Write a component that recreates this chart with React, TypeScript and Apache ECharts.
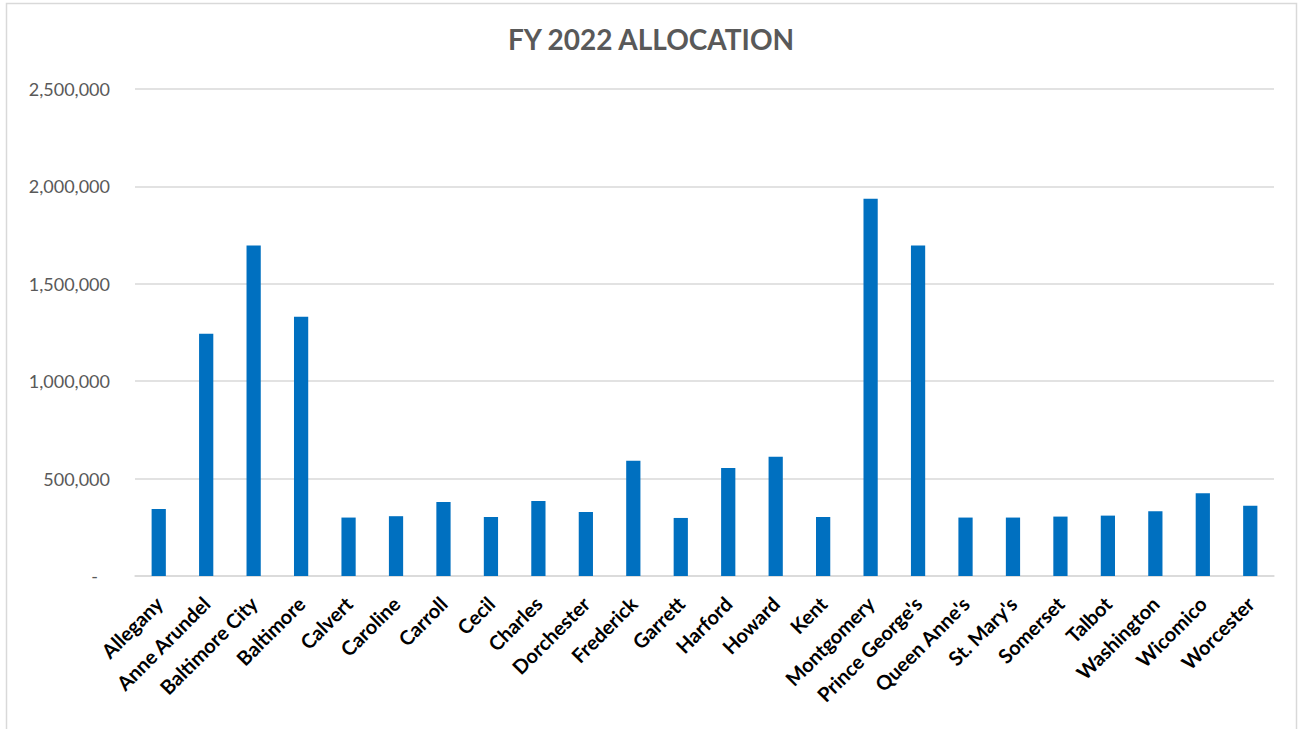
import React, { useEffect, useRef } from "react";
import * as echarts from "echarts";

const title = "FY 2022 ALLOCATION";
const counties = [
  "Allegany", "Anne Arundel", "Baltimore City", "Baltimore", "Calvert", "Caroline",
  "Carroll", "Cecil", "Charles", "Dorchester", "Frederick", "Garrett", "Harford",
  "Howard", "Kent", "Montgomery", "Prince George's", "Queen Anne's", "St. Mary's",
  "Somerset", "Talbot", "Washington", "Wicomico", "Worcester",
];
const allocation = [
  344000, 1244000, 1696000, 1331000, 300000, 307000,
  380000, 303000, 385000, 329000, 591000, 298000, 555000,
  612000, 303000, 1936000, 1696000, 300000, 300000,
  305000, 310000, 332000, 425000, 361000,
];
const yMin = 0;
const yMax = 2500000;
const yStep = 500000;

export default function App() {
  const ref = useRef<HTMLDivElement>(null);
  useEffect(() => {
    document.body.style.margin = "0";
    const chart = echarts.init(ref.current!, null, { renderer: "svg" });
    chart.setOption({
      animation: false,
      backgroundColor: "#ffffff",
      title: {
        text: title,
        left: "center",
        top: 20,
        textStyle: { fontFamily: "Lato", fontWeight: "bold", fontSize: 28, color: "#595959" },
      },
      graphic: [
        {
          type: "rect",
          shape: { x: 6.5, y: 3.5, width: 1290, height: 740 },
          style: { fill: "none", stroke: "#d9d9d9", lineWidth: 1.5 },
          silent: true,
        },
      ],
      grid: { left: 135, right: 28, top: 89, bottom: 153, containLabel: false },
      xAxis: {
        type: "category",
        data: counties,
        axisLine: { lineStyle: { color: "#d9d9d9", width: 1.5 } },
        axisTick: { inside: true, length: 7, lineStyle: { color: "#d9d9d9", width: 1.5 } },
        axisLabel: {
          rotate: 45,
          interval: 0,
          margin: 24,
          fontFamily: "Lato",
          fontWeight: "bold",
          fontSize: 20,
          color: "#000000",
        },
      },
      yAxis: {
        type: "value",
        min: yMin,
        max: yMax,
        interval: yStep,
        axisLine: { show: false },
        axisTick: { show: false },
        splitLine: { lineStyle: { color: "#d9d9d9", width: 1.5 } },
        axisLabel: {
          margin: 25,
          fontFamily: "Lato",
          fontSize: 18,
          color: "#595959",
          formatter: (v: number) => (v === 0 ? "{z|-}" : v.toLocaleString("en-US")),
          rich: { z: { padding: [0, 12, 0, 0], fontFamily: "Lato", fontSize: 18, color: "#595959" } },
        },
      },
      series: [
        {
          type: "bar",
          data: allocation,
          barWidth: "30%",
          itemStyle: { color: "#0070c0" },
        },
      ],
    });
    return () => chart.dispose();
  }, []);
  return <div ref={ref} style={{ width: 1302, height: 729 }} />;
}
